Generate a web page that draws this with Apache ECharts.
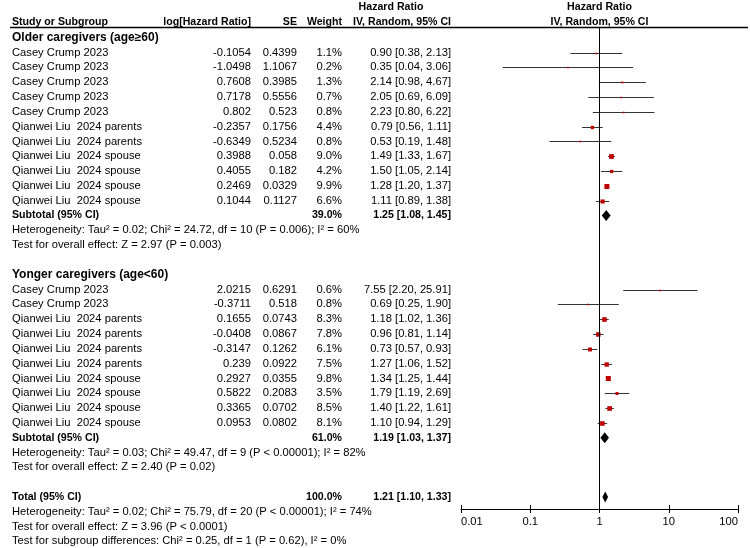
<!DOCTYPE html>
<html>
<head>
<meta charset="utf-8">
<script src="https://cdn.jsdelivr.net/npm/echarts@6/dist/echarts.min.js"></script>
<style>
  html, body { margin: 0; padding: 0; background: #fff; }
  #chart { width: 750px; height: 548px; }
</style>
</head>
<body>
<div id="chart"></div>
<script>
// ---- data: older caregivers (age>=60) ----
const olderStudies = ['Casey Crump 2023', 'Casey Crump 2023', 'Casey Crump 2023', 'Casey Crump 2023', 'Casey Crump 2023',
  'Qianwei Liu  2024 parents', 'Qianwei Liu  2024 parents', 'Qianwei Liu  2024 spouse', 'Qianwei Liu  2024 spouse',
  'Qianwei Liu  2024 spouse', 'Qianwei Liu  2024 spouse'];
const olderLogHR = [-0.1054, -1.0498, 0.7608, 0.7178, 0.802, -0.2357, -0.6349, 0.3988, 0.4055, 0.2469, 0.1044];
const olderSE = [0.4399, 1.1067, 0.3985, 0.5556, 0.523, 0.1756, 0.5234, 0.058, 0.182, 0.0329, 0.1127];
const olderWeight = [1.1, 0.2, 1.3, 0.7, 0.8, 4.4, 0.8, 9.0, 4.2, 9.9, 6.6];
const olderHR = [0.90, 0.35, 2.14, 2.05, 2.23, 0.79, 0.53, 1.49, 1.50, 1.28, 1.11];
const olderLow = [0.38, 0.04, 0.98, 0.69, 0.80, 0.56, 0.19, 1.33, 1.05, 1.20, 0.89];
const olderHigh = [2.13, 3.06, 4.67, 6.09, 6.22, 1.11, 1.48, 1.67, 2.14, 1.37, 1.38];
const olderSubtotal = [39.0, 1.25, 1.08, 1.45]; // weight, HR, low, high
const olderHet = 'Heterogeneity: Tau² = 0.02; Chi² = 24.72, df = 10 (P = 0.006); I² = 60%';
const olderTest = 'Test for overall effect: Z = 2.97 (P = 0.003)';

// ---- data: younger caregivers (age<60) ----
const youngerStudies = ['Casey Crump 2023', 'Casey Crump 2023', 'Qianwei Liu  2024 parents', 'Qianwei Liu  2024 parents',
  'Qianwei Liu  2024 parents', 'Qianwei Liu  2024 parents', 'Qianwei Liu  2024 spouse', 'Qianwei Liu  2024 spouse',
  'Qianwei Liu  2024 spouse', 'Qianwei Liu  2024 spouse'];
const youngerLogHR = [2.0215, -0.3711, 0.1655, -0.0408, -0.3147, 0.239, 0.2927, 0.5822, 0.3365, 0.0953];
const youngerSE = [0.6291, 0.518, 0.0743, 0.0867, 0.1262, 0.0922, 0.0355, 0.2083, 0.0702, 0.0802];
const youngerWeight = [0.6, 0.8, 8.3, 7.8, 6.1, 7.5, 9.8, 3.5, 8.5, 8.1];
const youngerHR = [7.55, 0.69, 1.18, 0.96, 0.73, 1.27, 1.34, 1.79, 1.40, 1.10];
const youngerLow = [2.20, 0.25, 1.02, 0.81, 0.57, 1.06, 1.25, 1.19, 1.22, 0.94];
const youngerHigh = [25.91, 1.90, 1.36, 1.14, 0.93, 1.52, 1.44, 2.69, 1.61, 1.29];
const youngerSubtotal = [61.0, 1.19, 1.03, 1.37];
const youngerHet = 'Heterogeneity: Tau² = 0.03; Chi² = 49.47, df = 9 (P < 0.00001); I² = 82%';
const youngerTest = 'Test for overall effect: Z = 2.40 (P = 0.02)';

// ---- overall ----
const total = [100.0, 1.21, 1.10, 1.33];
const totalHet = 'Heterogeneity: Tau² = 0.02; Chi² = 75.79, df = 20 (P < 0.00001); I² = 74%';
const totalTest = 'Test for overall effect: Z = 3.96 (P < 0.0001)';
const subgroupTest = 'Test for subgroup differences: Chi² = 0.25, df = 1 (P = 0.62), I² = 0%';

const axisTicks = [0.01, 0.1, 1, 10, 100];

// ---- layout (row index -> y via value axis) ----
const FONT = '"Liberation Sans", Arial, sans-serif';
const colStudy = 12, colLog = 251, colSE = 297, colWeight = 342, colCI = 451, colHRHead = 391;
const olderStart = 0, youngerStart = 16;
const BODY = 11.2, HEAD = 10.6;

const fmt2 = v => v.toFixed(2);
const ciText = (hr, lo, hi) => fmt2(hr) + ' [' + fmt2(lo) + ', ' + fmt2(hi) + ']';

// table cells
const cells = [];
function cell(x, row, text, align, bold, size) {
  cells.push({ x: x, row: row, text: text, align: align || 'left', bold: !!bold, size: size || BODY });
}
cell(colHRHead, -3.05, 'Hazard Ratio', 'center', true, HEAD);
cell(colStudy, -2.08, 'Study or Subgroup', 'left', true, HEAD);
cell(colLog, -2.08, 'log[Hazard Ratio]', 'right', true, HEAD);
cell(colSE, -2.08, 'SE', 'right', true, HEAD);
cell(colWeight, -2.08, 'Weight', 'right', true, HEAD);
cell(colCI, -2.08, 'IV, Random, 95% CI', 'right', true, HEAD);

function group(start, title, studies, logHR, se, w, hr, lo, hi, sub, het, test) {
  cell(colStudy, start - 1, title, 'left', true, 12);
  studies.forEach((s, i) => {
    const r = start + i;
    cell(colStudy, r, s);
    cell(colLog, r, String(logHR[i]), 'right');
    cell(colSE, r, String(se[i]), 'right');
    cell(colWeight, r, w[i].toFixed(1) + '%', 'right');
    cell(colCI, r, ciText(hr[i], lo[i], hi[i]), 'right');
  });
  const sr = start + studies.length;
  cell(colStudy, sr, 'Subtotal (95% CI)', 'left', true, HEAD);
  cell(colWeight, sr, sub[0].toFixed(1) + '%', 'right', true, HEAD);
  cell(colCI, sr, ciText(sub[1], sub[2], sub[3]), 'right', true, HEAD);
  cell(colStudy, sr + 1, het);
  cell(colStudy, sr + 2, test);
  return sr;
}
const olderSubRow = group(olderStart, 'Older caregivers (age≥60)', olderStudies, olderLogHR, olderSE, olderWeight,
  olderHR, olderLow, olderHigh, olderSubtotal, olderHet, olderTest);
const youngerSubRow = group(youngerStart, 'Yonger caregivers (age<60)', youngerStudies, youngerLogHR, youngerSE, youngerWeight,
  youngerHR, youngerLow, youngerHigh, youngerSubtotal, youngerHet, youngerTest);
const totalRow = youngerSubRow + 4;
cell(colStudy, totalRow, 'Total (95% CI)', 'left', true, HEAD);
cell(colWeight, totalRow, total[0].toFixed(1) + '%', 'right', true, HEAD);
cell(colCI, totalRow, ciText(total[1], total[2], total[3]), 'right', true, HEAD);
cell(colStudy, totalRow + 1, totalHet);
cell(colStudy, totalRow + 2, totalTest);
cell(colStudy, totalRow + 3, subgroupTest);

// forest rows
const studyRows = [];
olderHR.forEach((v, i) => studyRows.push({ hr: v, lo: olderLow[i], hi: olderHigh[i], w: olderWeight[i], row: olderStart + i }));
youngerHR.forEach((v, i) => studyRows.push({ hr: v, lo: youngerLow[i], hi: youngerHigh[i], w: youngerWeight[i], row: youngerStart + i }));
const diamonds = [
  { hr: olderSubtotal[1], lo: olderSubtotal[2], hi: olderSubtotal[3], row: olderSubRow },
  { hr: youngerSubtotal[1], lo: youngerSubtotal[2], hi: youngerSubtotal[3], row: youngerSubRow },
  { hr: total[1], lo: total[2], hi: total[3], row: totalRow }
];

const rowMin = -3.55, rowMax = 33.45;
const yAxisCommon = { type: 'value', min: rowMin, max: rowMax, inverse: true, show: false };

const chart = echarts.init(document.getElementById('chart'), null, { renderer: 'canvas' });
chart.setOption({
  animation: false,
  backgroundColor: '#fff',
  grid: [
    { left: 0, top: 0, width: 750, height: 548 },
    { left: 461, top: 0, width: 277, height: 548 },
    { left: 461, top: 508, width: 277, height: 1 },
    { left: 461, top: 508, width: 277, height: 1 }
  ],
  xAxis: [
    { gridIndex: 0, type: 'value', min: 0, max: 750, show: false },
    { gridIndex: 1, type: 'log', min: 0.01, max: 100, show: false },
    {
      gridIndex: 2, type: 'log', min: axisTicks[0], max: axisTicks[axisTicks.length - 1], position: 'bottom',
      axisLine: { show: true, lineStyle: { color: '#000', width: 1 } },
      axisTick: { show: true, length: 4, lineStyle: { color: '#000' } },
      splitLine: { show: false },
      axisLabel: {
        show: true, color: '#000', fontFamily: FONT, fontSize: 11.2, margin: 7,
        alignMinLabel: 'left', alignMaxLabel: 'right',
        formatter: v => String(v)
      }
    },
    {
      gridIndex: 3, type: 'log', min: axisTicks[0], max: axisTicks[axisTicks.length - 1], position: 'bottom',
      axisLine: { show: false },
      axisTick: { show: true, inside: true, length: 4, lineStyle: { color: '#000' } },
      splitLine: { show: false },
      axisLabel: { show: false }
    }
  ],
  yAxis: [
    Object.assign({ gridIndex: 0 }, yAxisCommon),
    Object.assign({ gridIndex: 1 }, yAxisCommon),
    { gridIndex: 2, type: 'value', show: false },
    { gridIndex: 3, type: 'value', show: false }
  ],
  graphic: [
    { type: 'line', shape: { x1: 10, y1: 27.5, x2: 748, y2: 27.5 }, style: { stroke: '#000', lineWidth: 1.5 } }
  ],
  series: [
    {
      // table text
      type: 'custom', xAxisIndex: 0, yAxisIndex: 0, silent: true,
      data: cells.map(c => [c.x, c.row]),
      renderItem: function (params, api) {
        const c = cells[params.dataIndex];
        const p = api.coord([c.x, c.row]);
        return {
          type: 'text', x: p[0], y: p[1],
          style: {
            text: c.text, fill: '#000', align: c.align, verticalAlign: 'middle',
            font: (c.bold ? 'bold ' : '') + c.size + 'px ' + FONT
          }
        };
      }
    },
    {
      // plot headers
      type: 'custom', xAxisIndex: 1, yAxisIndex: 1, silent: true,
      data: [[1, -3.05], [1, -2.08]],
      renderItem: function (params, api) {
        const p = api.coord([Math.sqrt(axisTicks[0] * axisTicks[axisTicks.length - 1]), api.value(1)]);
        return {
          type: 'text', x: p[0], y: p[1],
          style: {
            text: params.dataIndex === 0 ? 'Hazard Ratio' : 'IV, Random, 95% CI',
            fill: '#000', align: 'center', verticalAlign: 'middle', font: 'bold ' + HEAD + 'px ' + FONT
          }
        };
      }
    },
    {
      // line of no effect
      type: 'line', xAxisIndex: 1, yAxisIndex: 1, silent: true, symbol: 'none',
      data: [[1, -1.66], [1, 30.82]],
      lineStyle: { color: '#000', width: 1 }
    },
    {
      // study estimates with CI
      type: 'custom', xAxisIndex: 1, yAxisIndex: 1, silent: true,
      data: studyRows.map(r => [r.hr, r.row]),
      renderItem: function (params, api) {
        const r = studyRows[params.dataIndex];
        const c = api.coord([r.hr, r.row]);
        const x0 = api.coord([r.lo, r.row])[0];
        const x1 = api.coord([r.hi, r.row])[0];
        const y = Math.round(c[1]) + 0.5;
        const s = Math.max(1.6, 1.6 * Math.sqrt(r.w));
        return {
          type: 'group',
          children: [
            { type: 'line', shape: { x1: x0, y1: y, x2: x1, y2: y }, style: { stroke: '#333', lineWidth: 1 } },
            { type: 'rect', shape: { x: c[0] - s / 2, y: y - s / 2, width: s, height: s }, style: { fill: '#c00000' } }
          ]
        };
      }
    },
    {
      // pooled diamonds
      type: 'custom', xAxisIndex: 1, yAxisIndex: 1, silent: true,
      data: diamonds.map(d => [d.hr, d.row]),
      renderItem: function (params, api) {
        const d = diamonds[params.dataIndex];
        const c = api.coord([d.hr, d.row]);
        const x0 = api.coord([d.lo, d.row])[0];
        const x1 = api.coord([d.hi, d.row])[0];
        const h = 5.5;
        return {
          type: 'polygon',
          shape: { points: [[x0, c[1]], [c[0], c[1] - h], [x1, c[1]], [c[0], c[1] + h]] },
          style: { fill: '#000' }
        };
      }
    }
  ]
});
</script>
</body>
</html>
